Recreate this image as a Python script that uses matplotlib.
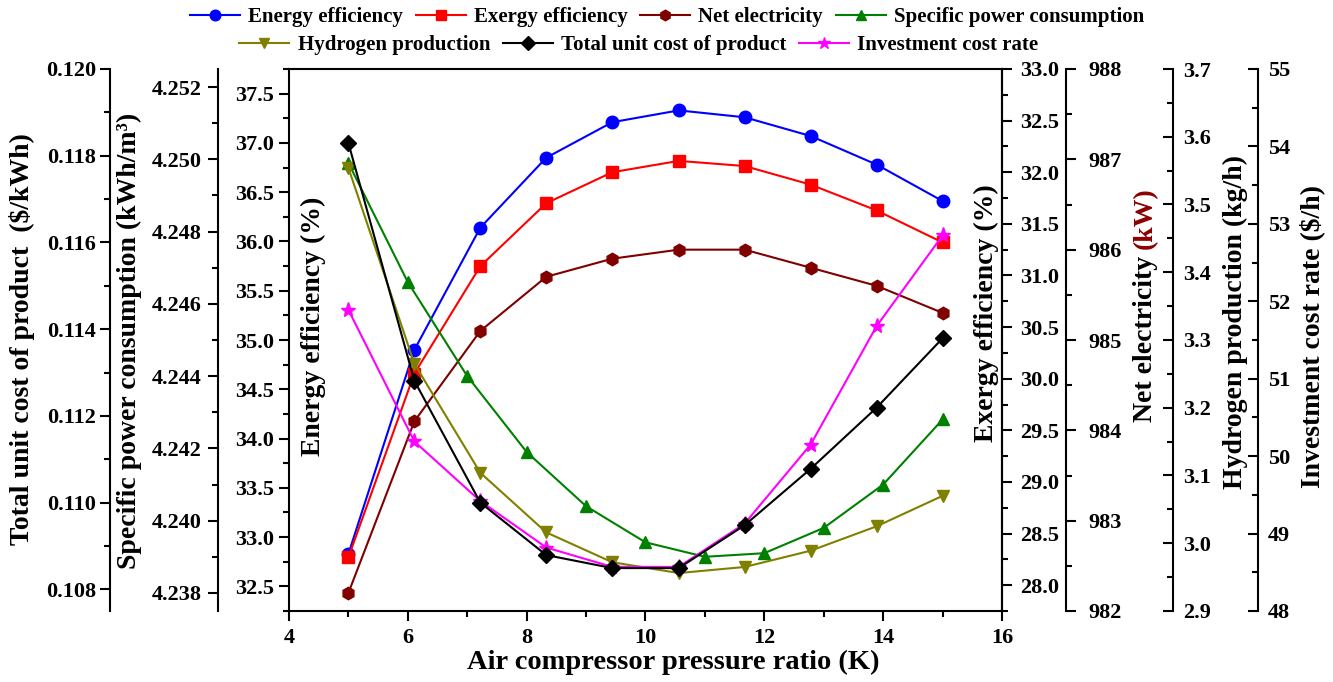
"""Multi-axis performance chart versus air compressor pressure ratio."""

import matplotlib

matplotlib.use("Agg")
import matplotlib.pyplot as plt
from matplotlib.ticker import FormatStrFormatter, MultipleLocator

plt.rcParams["font.family"] = ["Liberation Serif", "DejaVu Serif"]
plt.rcParams["font.weight"] = "bold"
plt.rcParams["axes.linewidth"] = 1.5

# x values (10 cases) and the finer grid used for specific power consumption
pressure_ratio = [5, 6.11, 7.22, 8.33, 9.44, 10.56, 11.67, 12.78, 13.89, 15]
pressure_ratio_spc = [5, 6, 7, 8, 9, 10, 11, 12, 13, 14, 15]

energy_eff = [32.83, 34.90, 36.14, 36.85, 37.21, 37.33, 37.26, 37.07, 36.78, 36.41]
exergy_eff = [28.27, 30.05, 31.09, 31.70, 32.00, 32.11, 32.06, 31.88, 31.63, 31.32]
net_electricity = [982.2, 984.1, 985.1, 985.7, 985.9, 986.0, 986.0, 985.8, 985.6, 985.3]
specific_power = [4.2499, 4.2466, 4.2440, 4.2419, 4.2404, 4.2394, 4.2390,
                  4.2391, 4.2398, 4.2410, 4.2428]
hydrogen_prod = [3.554, 3.265, 3.104, 3.016, 2.972, 2.956, 2.965, 2.989, 3.025, 3.070]
total_unit_cost = [0.11829, 0.11281, 0.11000, 0.10879, 0.10849, 0.10849,
                   0.10948, 0.11078, 0.11219, 0.11379]
investment_rate = [51.89, 50.19, 49.42, 48.82, 48.57, 48.57, 49.13, 50.15, 51.68, 52.85]

W, H = 1333, 682
TICK_FS = 16
LABEL_FS = 20


def style_ticks(ax, axis="y", direction="out", pad=4):
    ax.tick_params(axis=axis, which="both", direction=direction, width=1.5,
                   labelsize=TICK_FS, pad=pad)
    ax.tick_params(axis=axis, which="major", length=7)
    ax.tick_params(axis=axis, which="minor", length=4)


def make_axis(host, side, offset, ylim, major, minor, fmt, direction="out", pad=4):
    ax = host.twinx()
    for sp in ax.spines.values():
        sp.set_visible(False)
    spine = ax.spines[side]
    spine.set_visible(True)
    spine.set_position(("axes", offset))
    spine.set_linewidth(1.5)
    ax.yaxis.set_ticks_position(side)
    ax.yaxis.set_label_position(side)
    ax.set_ylim(*ylim)
    ax.yaxis.set_major_locator(MultipleLocator(major))
    ax.yaxis.set_minor_locator(MultipleLocator(minor))
    ax.yaxis.set_major_formatter(FormatStrFormatter(fmt))
    style_ticks(ax, direction=direction, pad=pad)
    return ax


def vlabel(x_px, y_px, text, **kw):
    return fig.text(x_px / W, 1 - y_px / H, text, rotation=90, ha="center",
                    va="center", fontsize=LABEL_FS, fontweight="bold", **kw)


fig = plt.figure(figsize=(W / 100, H / 100), dpi=100)
ax = fig.add_axes([289 / W, 1 - 611 / H, (1002 - 289) / W, (611 - 69) / H])

ax.set_xlim(4, 16)
ax.xaxis.set_major_locator(MultipleLocator(2))
ax.xaxis.set_minor_locator(MultipleLocator(1))
ax.set_ylim(32.25, 37.75)
ax.yaxis.set_major_locator(MultipleLocator(0.5))
ax.yaxis.set_minor_locator(MultipleLocator(0.25))
ax.yaxis.set_major_formatter(FormatStrFormatter("%.1f"))
ax.tick_params(top=False, right=False, which="both")
style_ticks(ax, "x", pad=5)
style_ticks(ax, "y")

ax_exergy = make_axis(ax, "right", 1.0, (27.75, 33.0), 0.5, 0.25, "%.1f", pad=6)
ax_net = make_axis(ax, "right", (1066 - 289) / 713, (982, 988), 1, 0.5, "%d", pad=9)
ax_spc = make_axis(ax, "left", (218 - 289) / 713, (4.2375, 4.2525), 0.002, 0.001, "%.3f",
                   pad=5)
ax_h2 = make_axis(ax, "right", (1173 - 289) / 713, (2.9, 3.7), 0.1, 0.05, "%.1f",
                  direction="in", pad=7)
ax_inv = make_axis(ax, "right", (1258 - 289) / 713, (48, 55), 1, 0.5, "%d",
                   direction="in", pad=7)
ax_cost = make_axis(ax, "left", (110 - 289) / 713, (0.1075, 0.120), 0.002, 0.001, "%.3f",
                    pad=3)

ms = 9
lw = 1.5
h1, = ax.plot(pressure_ratio, energy_eff, "-o", color="#0000FF", ms=ms, lw=lw,
              label="Energy efficiency")
h2, = ax_exergy.plot(pressure_ratio, exergy_eff, "-s", color="#FF0000", ms=ms - 1, lw=lw,
                     label="Exergy efficiency")
h3, = ax_net.plot(pressure_ratio, net_electricity, "-h", color="#800000", ms=ms, lw=lw,
                  label="Net electricity")
h4, = ax_spc.plot(pressure_ratio_spc, specific_power, "-^", color="#008000", ms=ms, lw=lw,
                  label="Specific power consumption")
h5, = ax_h2.plot(pressure_ratio, hydrogen_prod, "-v", color="#808000", ms=ms, lw=lw,
                 label="Hydrogen production")
h7, = ax_inv.plot(pressure_ratio, investment_rate, "-*", color="#FF00FF", ms=ms + 2, lw=lw,
                  label="Investment cost rate")
h6, = ax_cost.plot(pressure_ratio, total_unit_cost, "-D", color="black", ms=ms - 1, lw=lw,
                   label="Total unit cost of product")

leg_kw = dict(frameon=False, handlelength=2.4, handletextpad=0.4,
              columnspacing=0.6, markerscale=0.85, prop={"weight": "bold", "size": 15})
fig.legend(handles=[h1, h2, h3, h4], ncol=4, loc="center",
           bbox_to_anchor=(667 / W, 1 - 17 / H), **leg_kw)
fig.legend(handles=[h5, h6, h7], ncol=3, loc="center",
           bbox_to_anchor=(639 / W, 1 - 45 / H), **leg_kw)

# axis titles
vlabel(22, 339, "Total unit cost of product  ($/kWh)")
vlabel(129, 341, "Specific power consumption (kWh/m³)")
vlabel(313, 326, "Energy efficiency (%)")
vlabel(986, 313, "Exergy efficiency (%)")
vlabel(1235, 322, "Hydrogen production (kg/h)")
vlabel(1312, 336, "Investment cost rate ($/h)")

t_net = fig.text(1145 / W, 1 - 422 / H, "Net electricity ", rotation=90, ha="center",
                 va="bottom", fontsize=LABEL_FS, fontweight="bold")
fig.canvas.draw()
bb = t_net.get_window_extent()
fig.text(1145 / W, bb.y1 / fig.bbox.height, "(kW)", rotation=90, ha="center",
         va="bottom", fontsize=LABEL_FS, fontweight="bold", color="#8B0000")

fig.text(673 / W, 1 - 662 / H, "Air compressor pressure ratio (K)", ha="center",
         va="center", fontsize=20.5, fontweight="bold")

fig.savefig("out.png", dpi=100)
